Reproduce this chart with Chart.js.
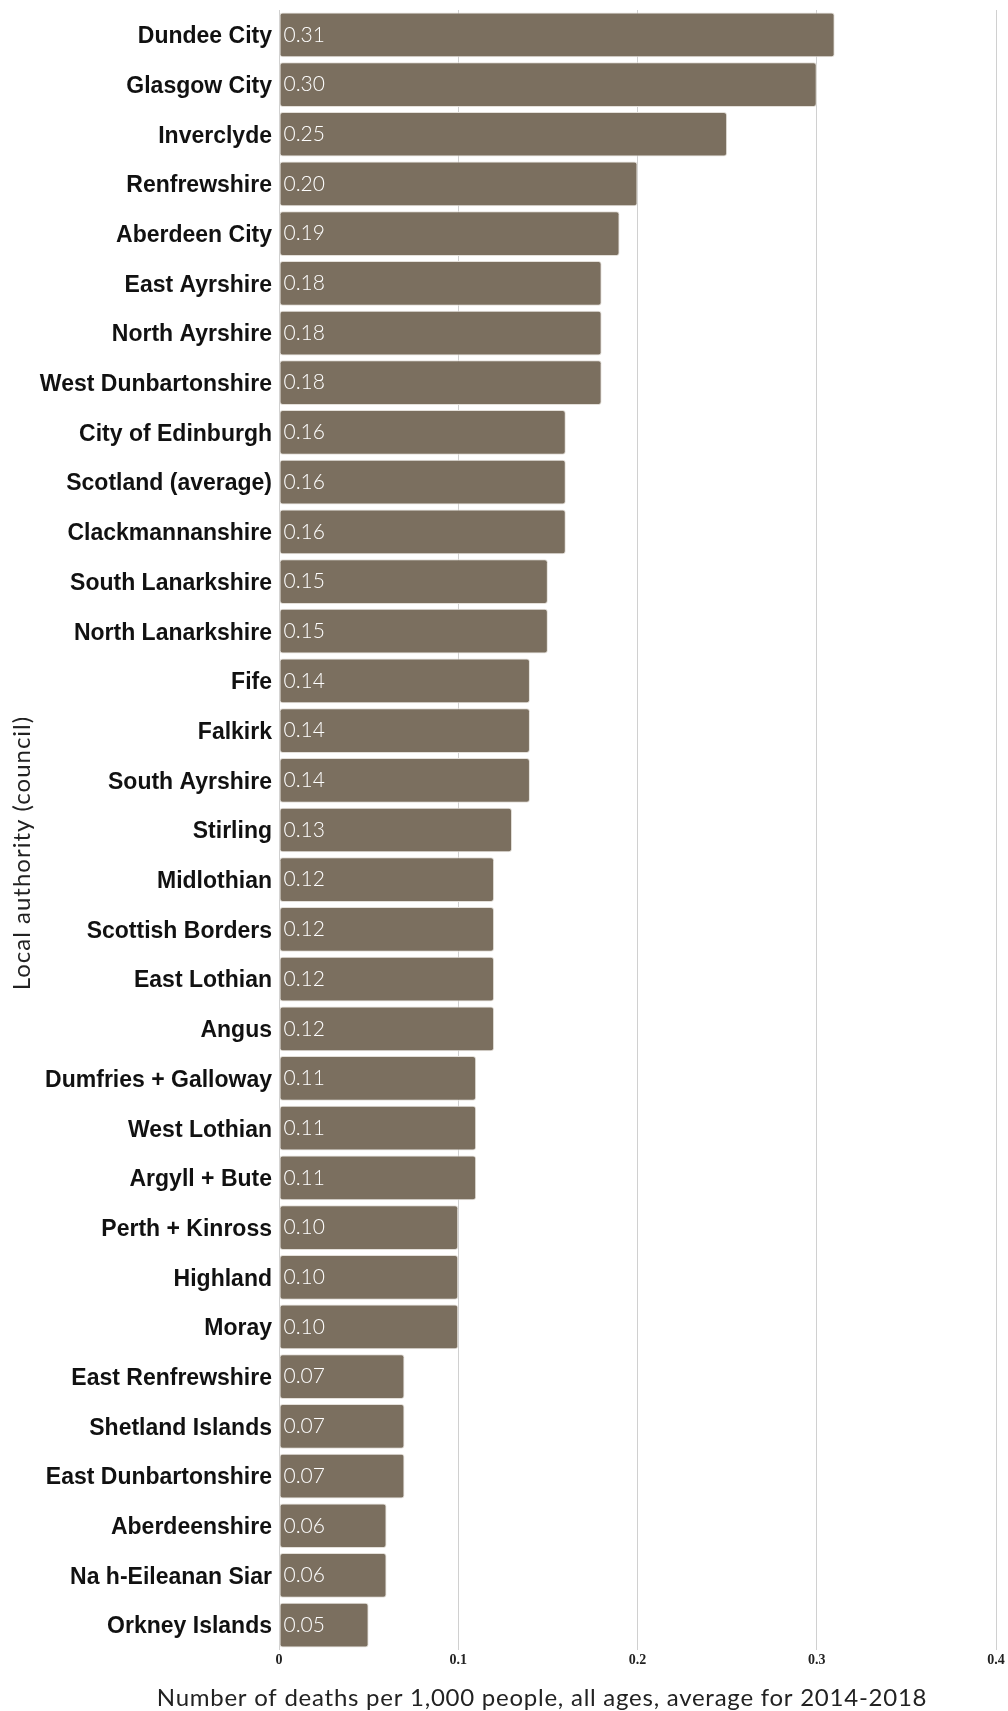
<!DOCTYPE html>
<html>
<head>
<meta charset="utf-8">
<style>
  html, body { margin: 0; padding: 0; background: #fff; }
  #wrap { width: 1008px; height: 1711px; }
</style>
<script src="https://cdn.jsdelivr.net/npm/chart.js@4/dist/chart.umd.min.js"></script>
</head>
<body>
<div id="wrap"><canvas id="myChart" width="1008" height="1711"></canvas></div>
<script>
// councils, sorted by rate
var councils = [
  'Dundee City', 'Glasgow City', 'Inverclyde', 'Renfrewshire', 'Aberdeen City',
  'East Ayrshire', 'North Ayrshire', 'West Dunbartonshire', 'City of Edinburgh',
  'Scotland (average)', 'Clackmannanshire', 'South Lanarkshire', 'North Lanarkshire',
  'Fife', 'Falkirk', 'South Ayrshire', 'Stirling', 'Midlothian', 'Scottish Borders',
  'East Lothian', 'Angus', 'Dumfries + Galloway', 'West Lothian', 'Argyll + Bute',
  'Perth + Kinross', 'Highland', 'Moray', 'East Renfrewshire', 'Shetland Islands',
  'East Dunbartonshire', 'Aberdeenshire', 'Na h-Eileanan Siar', 'Orkney Islands'
];
var deathRates = [
  0.31, 0.30, 0.25, 0.20, 0.19,
  0.18, 0.18, 0.18, 0.16,
  0.16, 0.16, 0.15, 0.15,
  0.14, 0.14, 0.14, 0.13, 0.12, 0.12,
  0.12, 0.12, 0.11, 0.11, 0.11,
  0.10, 0.10, 0.10, 0.07, 0.07,
  0.07, 0.06, 0.06, 0.05
];
var xTicks = [0, 0.1, 0.2, 0.3, 0.4];
var xTitle = 'Number of deaths per 1,000 people, all ages, average for 2014-2018';
var yTitle = 'Local authority (council)';

// value inside each bar + the two axis titles (placed like the original)
var valueLabels = {
  id: 'valueLabels',
  afterDatasetsDraw: function(chart) {
    var c = chart.ctx;
    var meta = chart.getDatasetMeta(0);
    c.save();
    c.font = '300 21px Lato';
    c.fillStyle = '#ffffff';
    c.textAlign = 'left';
    c.textBaseline = 'middle';
    meta.data.forEach(function(bar, i) {
      c.fillText(deathRates[i].toFixed(2), bar.base + 4, bar.y);
    });
    c.restore();
  },
  afterDraw: function(chart) {
    var c = chart.ctx;
    c.save();
    c.fillStyle = '#222';
    c.font = '24px Lato';
    c.letterSpacing = '0.75px';
    c.textAlign = 'center';
    c.textBaseline = 'middle';
    c.fillText(xTitle, 542, 1698);
    c.translate(22, 853);
    c.rotate(-Math.PI / 2);
    c.letterSpacing = '1px';
    c.fillText(yTitle, 0, 0);
    c.restore();
  }
};

var ctx = document.getElementById('myChart').getContext('2d');
var myChart = new Chart(ctx, {
  type: 'bar',
  data: {
    labels: councils,
    datasets: [{
      data: deathRates,
      backgroundColor: '#7b6f5f',
      borderColor: '#e4e0da',
      borderWidth: 1,
      borderRadius: 3,
      borderSkipped: false,
      barPercentage: 0.9,
      categoryPercentage: 1
    }]
  },
  options: {
    indexAxis: 'y',
    responsive: false,
    animation: false,
    layout: { padding: { top: 10, right: 12, left: 0, bottom: 0 } },
    plugins: {
      legend: { display: false },
      tooltip: { enabled: false }
    },
    scales: {
      x: {
        min: 0,
        max: 0.4,
        afterBuildTicks: function(scale) {
          scale.ticks = xTicks.map(function(v) { return { value: v }; });
        },
        afterFit: function(scale) { scale.height = 61; },
        grid: { color: '#d0d0d0', drawTicks: false },
        border: { display: false },
        ticks: {
          padding: 2,
          color: '#222',
          font: { family: 'Liberation Serif', weight: 'bold', size: 14 },
          callback: function(v) { return String(v); }
        }
      },
      y: {
        afterFit: function(scale) {
          scale.width = 279;
          scale.paddingTop = 0;
          scale.paddingBottom = 0;
        },
        grid: { display: false, drawTicks: false },
        border: { display: false },
        ticks: {
          padding: 7,
          labelOffset: 2,
          color: '#111',
          font: { family: 'Liberation Sans', weight: 'bold', size: 23 }
        }
      }
    }
  },
  plugins: [valueLabels]
});
</script>
</body>
</html>
